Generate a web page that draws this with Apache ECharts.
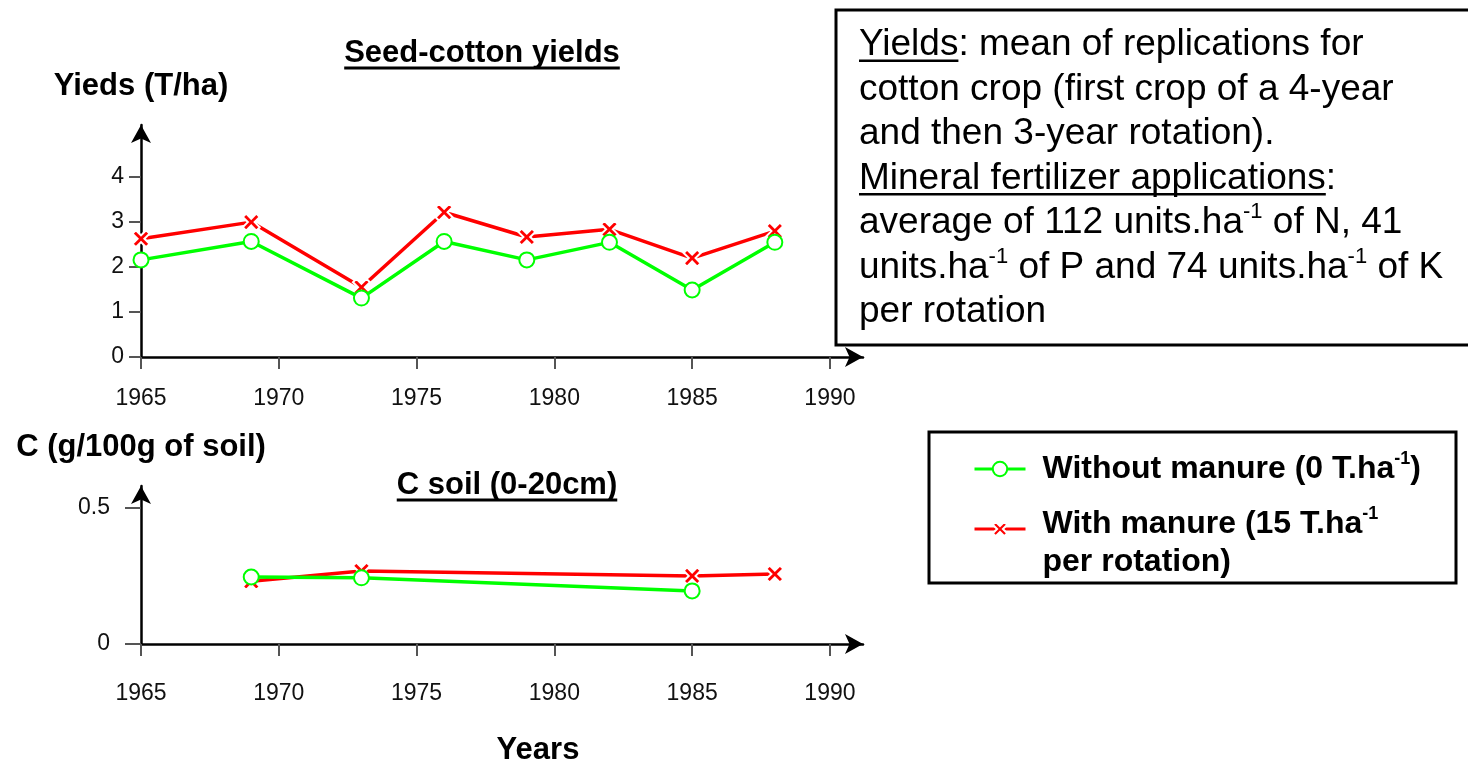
<!DOCTYPE html>
<html>
<head>
<meta charset="utf-8">
<script src="https://cdn.jsdelivr.net/npm/echarts@6/dist/echarts.min.js"></script>
<style>
  html, body { margin: 0; padding: 0; background: #fff; }
  #chart { width: 1468px; height: 763px; }
</style>
</head>
<body>
<div id="chart"></div>
<script>
// data
const yieldYears = [1965, 1969, 1973, 1976, 1979, 1982, 1985, 1988];
const yieldWithout = [2.16, 2.57, 1.31, 2.57, 2.16, 2.55, 1.49, 2.55];
const yieldWith = [2.63, 3.0, 1.55, 3.22, 2.67, 2.84, 2.2, 2.8];

const carbonYearsWithout = [1969, 1973, 1985];
const carbonWithout = [0.246, 0.243, 0.195];
const carbonYearsWith = [1969, 1973, 1985, 1988];
const carbonWith = [0.23, 0.268, 0.25, 0.257];

const yearTicks = [1965, 1970, 1975, 1980, 1985, 1990];
const yieldTicks = [0, 1, 2, 3, 4];
const carbonTicks = [0, 0.5];

const seriesNames = ['Without manure', 'With manure'];
const legendLabels = [
  'Without manure (0 T.ha{s|-1})',
  'With manure (15 T.ha{s|-1}\nper rotation)'
];
const noteLines = [
  'Yields: mean of replications for',
  'cotton crop (first crop of a 4-year',
  'and then 3-year rotation).',
  'Mineral fertilizer applications:',
  'average of 112 units.ha{s|-1} of N, 41',
  'units.ha{s|-1} of P and 74 units.ha{s|-1} of K',
  'per rotation'
];

const FAMILY = '"Liberation Sans", Arial, Helvetica, sans-serif';
const GREEN = '#00ff00';
const RED = '#ff0000';
const X_MARK = 'path://M0,4 L4,0 L10,6 L16,0 L20,4 L14,10 L20,16 L16,20 L10,14 L4,20 L0,16 L6,10 Z';

const measureCtx = document.createElement('canvas').getContext('2d');
function textWidth(str, font) {
  measureCtx.font = font;
  return measureCtx.measureText(str).width;
}

const zip = (xs, ys) => xs.map((x, i) => [x, ys[i]]);

const boldFont = 'bold 31px ' + FAMILY;
const noteFont = '37px ' + FAMILY;

// centred bold text with underline
function underlinedTitle(text, cx, cy, uy) {
  const w = textWidth(text, boldFont);
  return [
    { type: 'text', x: cx, y: cy, style: { text: text, font: boldFont, fill: '#000', textAlign: 'center', textVerticalAlign: 'middle' } },
    { type: 'line', shape: { x1: cx - w / 2, y1: uy, x2: cx + w / 2, y2: uy }, style: { stroke: '#000', lineWidth: 3 } }
  ];
}

const noteX = 859, noteTop = 23, noteLH = 44.5;
const noteUnderlines = [
  { line: 0, text: 'Yields' },
  { line: 3, text: 'Mineral fertilizer applications' }
].map(u => {
  const y = noteTop + noteLH * u.line + noteLH / 2 + 15.5;
  return { type: 'line', shape: { x1: noteX, y1: y, x2: noteX + textWidth(u.text, noteFont), y2: y }, style: { stroke: '#000', lineWidth: 2.5 } };
});

const myChart = echarts.init(document.getElementById('chart'));

function xAxisFor(gridIndex, labelMargin) {
  return {
    type: 'value', gridIndex: gridIndex, min: 1965, max: 1991.2,
    axisLine: { onZero: false, symbol: ['none', 'arrow'], symbolSize: [15, 18], lineStyle: { color: '#000', width: 2.5 } },
    axisTick: { customValues: yearTicks, length: 12, lineStyle: { color: '#555', width: 2 } },
    axisLabel: { customValues: yearTicks, formatter: v => String(v), fontSize: 23, color: '#111', margin: labelMargin, fontFamily: FAMILY },
    splitLine: { show: false }
  };
}

function yAxisFor(gridIndex, max, ticks, tickLen, labelMargin) {
  return {
    type: 'value', gridIndex: gridIndex, min: 0, max: max,
    axisLine: { show: true, onZero: false, symbol: ['none', 'arrow'], symbolSize: [15, 18], lineStyle: { color: '#000', width: 2.5 } },
    axisTick: { show: true, customValues: ticks, length: tickLen, lineStyle: { color: '#555', width: 2 } },
    axisLabel: { customValues: ticks, formatter: v => String(v), fontSize: 23, color: '#111', margin: labelMargin, fontFamily: FAMILY },
    splitLine: { show: false }
  };
}

const withStyle = {
  type: 'line', name: seriesNames[1], symbol: X_MARK, symbolSize: 17,
  lineStyle: { color: RED, width: 3.5 },
  itemStyle: { color: RED, borderColor: '#fff', borderWidth: 2 },
  z: 2
};
const withoutStyle = {
  type: 'line', name: seriesNames[0], symbol: 'emptyCircle', symbolSize: 15,
  lineStyle: { color: GREEN, width: 3.5 },
  itemStyle: { color: GREEN, borderWidth: 3 },
  z: 3
};

const option = {
  animation: false,
  textStyle: { fontFamily: FAMILY },
  grid: [
    { left: 141, top: 125, width: 722, height: 232 },
    { left: 141, top: 486, width: 722, height: 158 }
  ],
  xAxis: [xAxisFor(0, 30), xAxisFor(1, 38)],
  yAxis: [
    yAxisFor(0, 5.16, yieldTicks, 12, 17),
    yAxisFor(1, 0.58, carbonTicks, 16, 31)
  ],
  legend: {
    orient: 'vertical', left: 968, top: 445,
    itemWidth: 51, itemHeight: 18, itemGap: -11,
    lineStyle: { width: 3 },
    data: [
      { name: seriesNames[0], textStyle: { padding: [0, 0, 0, 12] } },
      { name: seriesNames[1], textStyle: { padding: [28, 0, 0, 12] } }
    ],
    formatter: name => legendLabels[seriesNames.indexOf(name)],
    textStyle: {
      fontFamily: FAMILY, fontWeight: 'bold', fontSize: 32, lineHeight: 38, color: '#000',
      rich: {
        s: { fontSize: 18, fontWeight: 'bold', lineHeight: 26, verticalAlign: 'top' }
      }
    }
  },
  series: [
    Object.assign({}, withStyle, { xAxisIndex: 0, yAxisIndex: 0, data: zip(yieldYears, yieldWith) }),
    Object.assign({}, withoutStyle, { xAxisIndex: 0, yAxisIndex: 0, data: zip(yieldYears, yieldWithout) }),
    Object.assign({}, withStyle, { xAxisIndex: 1, yAxisIndex: 1, data: zip(carbonYearsWith, carbonWith) }),
    Object.assign({}, withoutStyle, { xAxisIndex: 1, yAxisIndex: 1, data: zip(carbonYearsWithout, carbonWithout) })
  ],
  graphic: [
    { type: 'rect', shape: { x: 836, y: 10, width: 700, height: 335 }, style: { fill: 'none', stroke: '#000', lineWidth: 3 } },
    { type: 'rect', shape: { x: 929, y: 432, width: 527, height: 151 }, style: { fill: 'none', stroke: '#000', lineWidth: 3 } },
    {
      type: 'text', x: noteX, y: noteTop,
      style: {
        text: noteLines.join('\n'), font: noteFont, fill: '#000', lineHeight: noteLH,
        textAlign: 'left', textVerticalAlign: 'top',
        rich: { s: { fontSize: 22, fontFamily: FAMILY, lineHeight: 33, verticalAlign: 'top' } }
      }
    },
    ...noteUnderlines,
    ...underlinedTitle('Seed-cotton yields', 482, 53, 68),
    ...underlinedTitle('C soil (0-20cm)', 507, 485, 500),
    { type: 'text', x: 141, y: 86, style: { text: 'Yieds (T/ha)', font: boldFont, fill: '#000', textAlign: 'center', textVerticalAlign: 'middle' } },
    { type: 'text', x: 141, y: 447, style: { text: 'C (g/100g of soil)', font: boldFont, fill: '#000', textAlign: 'center', textVerticalAlign: 'middle' } },
    { type: 'text', x: 538, y: 750, style: { text: 'Years', font: boldFont, fill: '#000', textAlign: 'center', textVerticalAlign: 'middle' } }
  ]
};

option && myChart.setOption(option);

window.addEventListener('resize', () => {
  myChart.resize();
});
</script>
</body>
</html>
